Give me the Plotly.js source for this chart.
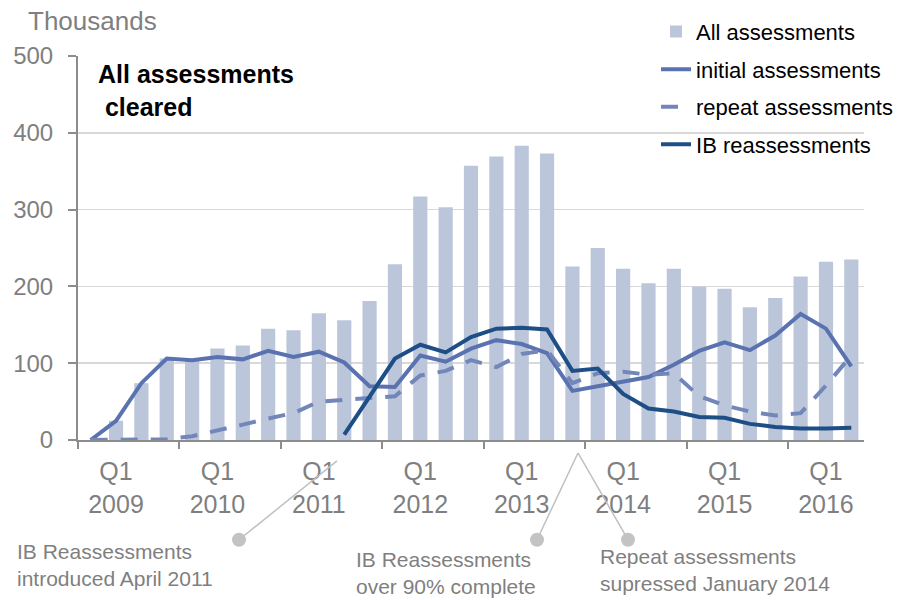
<!DOCTYPE html>
<html>
<head>
<meta charset="utf-8">
<script src="https://cdn.plot.ly/plotly-3.0.1.min.js"></script>
<style>html,body{margin:0;padding:0;background:#fff;}#chart{width:910px;height:600px;}</style>
</head>
<body>
<div id="chart"></div>
<script>
// Quarters (category order), Q4 2008 .. Q2 2016
const quarters = ['2008 Q4',
  '2009 Q1','2009 Q2','2009 Q3','2009 Q4',
  '2010 Q1','2010 Q2','2010 Q3','2010 Q4',
  '2011 Q1','2011 Q2','2011 Q3','2011 Q4',
  '2012 Q1','2012 Q2','2012 Q3','2012 Q4',
  '2013 Q1','2013 Q2','2013 Q3','2013 Q4',
  '2014 Q1','2014 Q2','2014 Q3','2014 Q4',
  '2015 Q1','2015 Q2','2015 Q3','2015 Q4',
  '2016 Q1','2016 Q2'];

// Thousands
const allAssessments = [0, 25, 74, 106, 104, 119, 123, 145, 143, 165, 156, 181, 229, 317, 303, 357, 369, 383, 373, 226, 250, 223, 204, 223, 200, 197, 173, 185, 213, 232, 235];
const initialAssessments = [0, 25, 74, 106, 104, 108, 105, 116, 108, 115, 101, 70, 69, 110, 102, 119, 130, 125, 113, 64, 70, 76, 82, 98, 116, 127, 117, 136, 164, 145, 96];
const repeatAssessments = [0, 0, 0, 1, 5, 12, 20, 28, 35, 50, 52, 55, 57, 84, 90, 104, 95, 112, 117, 74, 87, 89, 85, 87, 57, 45, 37, 32, 35, 71, 110];
const ibReassessments = [null, null, null, null, null, null, null, null, null, null, 7, 57, 106, 124, 114, 134, 145, 146, 144, 90, 93, 60, 41, 37, 30, 29, 21, 17, 15, 15, 16];

const tickQuarters = ['2009 Q1','2010 Q1','2011 Q1','2012 Q1','2013 Q1','2014 Q1','2015 Q1','2016 Q1'];
const tickLabels = ['Q1<br>2009','Q1<br>2010','Q1<br>2011','Q1<br>2012','Q1<br>2013','Q1<br>2014','Q1<br>2015','Q1<br>2016'];
const yTicks = [0, 100, 200, 300, 400, 500];

const seriesNames = ['All assessments', 'initial assessments', 'repeat assessments', 'IB reassessments'];

const xIdx = quarters.map((q, i) => i);
const tickIdx = tickQuarters.map(q => quarters.indexOf(q));

const FONT = 'Liberation Sans, Arial, sans-serif';
const GREY = '#7f7f7f';

const traces = [
  {type:'bar', x:xIdx, y:allAssessments, name:seriesNames[0], legendgroup:'g1',
   marker:{color:'#bcc6da'}, hoverinfo:'none'},
  {type:'scatter', mode:'lines', x:xIdx, y:initialAssessments, name:seriesNames[1], legendgroup:'g2',
   line:{color:'#5a72b0', width:4}, hoverinfo:'none'},
  {type:'scatter', mode:'lines', x:xIdx, y:repeatAssessments, name:seriesNames[2], legendgroup:'g3',
   line:{color:'#7386b9', width:4, dash:'17px,13px'}, hoverinfo:'none'},
  {type:'scatter', mode:'lines', x:xIdx, y:ibReassessments, name:seriesNames[3], legendgroup:'g4',
   line:{color:'#1d4e85', width:4}, hoverinfo:'none', connectgaps:false}
];

function px(x){ return (x - 78) / 786; }
function py(y){ return (440 - y) / 385; }

const lineStyle = {color:'#c0c0c0', width:1.5};
const circ = (cx, cy) => ({type:'circle', xref:'paper', yref:'paper', xsizemode:'pixel', ysizemode:'pixel',
  xanchor:px(cx), yanchor:py(cy), x0:-7, x1:7, y0:-7, y1:7, fillcolor:'#c3c3c3', line:{width:0}, layer:'above'});

const layout = {
  width:910, height:600,
  margin:{l:78, r:46, t:55, b:160},
  paper_bgcolor:'#ffffff', plot_bgcolor:'#ffffff',
  font:{family:FONT, color:GREY},
  bargap:0.44,
  showlegend:true,
  title:{text:'<b>All assessments</b><br><b>&nbsp;cleared</b>', font:{family:FONT, size:25, color:'#000000'},
    xref:'container', yref:'container', x:98/910, xanchor:'left', y:1-83/600, yanchor:'top'},
  xaxis:{range:[-0.5, 30.5], tickmode:'array', tickvals:tickIdx, ticktext:tickLabels, ticks:'',
    showgrid:false, zeroline:false, showline:true, linecolor:'#8c8c8c', linewidth:2,
    tickfont:{family:FONT, size:25, color:GREY}, ticklabelstandoff:8,
    minor:{tick0:-0.5, dtick:4, ticks:'outside', ticklen:7, tickwidth:2, tickcolor:'#8c8c8c', showgrid:false}},
  yaxis:{range:[0, 500], tickmode:'array', tickvals:yTicks, ticks:'outside', ticklen:8, tickwidth:2,
    tickcolor:'#8c8c8c', showline:true, linecolor:'#8c8c8c', linewidth:2, showgrid:true,
    gridcolor:'#d9d9d9', gridwidth:1.5, zeroline:false,
    tickfont:{family:FONT, size:24, color:GREY}, ticklabelstandoff:10},
  legend:{x:0.7354, y:1.115, xanchor:'left', yanchor:'top', bgcolor:'rgba(0,0,0,0)',
    font:{family:FONT, size:22, color:'#000000'}, traceorder:'grouped', tracegroupgap:6},
  annotations:[
    {text:'Thousands', xref:'paper', yref:'paper', x:px(26), y:py(20), xanchor:'left', yanchor:'middle',
     showarrow:false, font:{family:FONT, size:26, color:GREY}},
    {text:'IB Reassessments<br>introduced April 2011', xref:'paper', yref:'paper', x:px(16), y:py(539),
     xanchor:'left', yanchor:'top', align:'left', showarrow:false, borderpad:0, font:{family:FONT, size:21, color:GREY}},
    {text:'IB Reassessments<br>over 90% complete', xref:'paper', yref:'paper', x:px(355), y:py(547),
     xanchor:'left', yanchor:'top', align:'left', showarrow:false, borderpad:0, font:{family:FONT, size:21, color:GREY}},
    {text:'Repeat assessments<br>supressed January 2014', xref:'paper', yref:'paper', x:px(599), y:py(544),
     xanchor:'left', yanchor:'top', align:'left', showarrow:false, borderpad:0, font:{family:FONT, size:21, color:GREY}}
  ],
  shapes:[
    {type:'line', xref:'paper', yref:'paper', x0:px(239), y0:py(540), x1:px(337), y1:py(461), line:lineStyle, layer:'above'},
    {type:'line', xref:'paper', yref:'paper', x0:px(537), y0:py(540), x1:px(578), y1:py(453), line:lineStyle, layer:'above'},
    {type:'line', xref:'paper', yref:'paper', x0:px(628), y0:py(540), x1:px(578), y1:py(453), line:lineStyle, layer:'above'},
    circ(239, 540), circ(537, 540), circ(628, 540)
  ]
};

Plotly.newPlot('chart', traces, layout, {displayModeBar:false, staticPlot:true});
</script>
</body>
</html>
